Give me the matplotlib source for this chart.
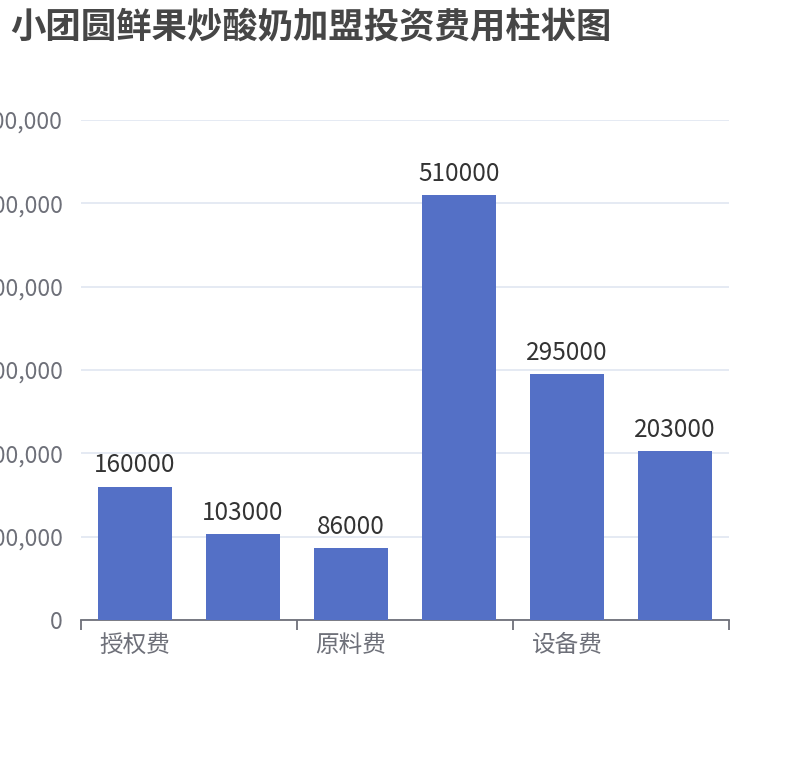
import matplotlib.pyplot as plt
from matplotlib.ticker import FuncFormatter

plt.rcParams['font.family'] = ['Noto Sans CJK SC', 'DejaVu Sans']

# 只显示了隔一个的类目名，其余为推测
categories = ['授权费', '保证金', '原料费', '店铺租金', '设备费', '装修费']
costs = [160000, 103000, 86000, 510000, 295000, 203000]
y_ticks = [0, 100000, 200000, 300000, 400000, 500000, 600000]

fig = plt.figure(figsize=(8.1, 7.6), dpi=100)
ax = fig.add_axes([81 / 810, 1 - 620 / 760, 648 / 810, 500 / 760])

x = list(range(len(categories)))
bars = ax.bar(x, costs, width=0.69, color='#5470c6', zorder=3)
for b, v in zip(bars, costs):
    ax.annotate(str(v), (b.get_x() + b.get_width() / 2, v), xytext=(0, 6),
                textcoords='offset points', ha='center', va='bottom',
                fontsize=17.5, color='#333333')

ax.set_xlim(-0.5, len(categories) - 0.5)
ax.set_ylim(0, 600000)
ax.set_yticks(y_ticks)
ax.yaxis.set_major_formatter(FuncFormatter(lambda v, p: f'{int(v):,}'))
ax.grid(axis='y', color='#E0E6F1', lw=1.2, zorder=0)

# x 轴：刻度在类目边界，每隔一个显示标签
ax.set_xticks([i - 0.5 for i in range(0, len(categories) + 1, 2)])
ax.set_xticklabels([])
ax.set_xticks(x[::2], minor=True)
ax.set_xticklabels(categories[::2], minor=True)
ax.tick_params(axis='x', which='major', length=7, width=1.3, color='#6E7079')
ax.tick_params(axis='x', which='minor', length=0, pad=10, labelsize=17, labelcolor='#6E7079')
for lab in ax.get_xticklabels(minor=True):
    lab.set_ha('center')
ax.tick_params(axis='y', length=0, pad=13, labelsize=16.5, labelcolor='#6E7079')

for s in ['top', 'right', 'left']:
    ax.spines[s].set_visible(False)
ax.spines['bottom'].set_color('#6E7079')
ax.spines['bottom'].set_linewidth(1.3)

fig.text(10 / 810, 1 - 27 / 760, '小团圆鲜果炒酸奶加盟投资费用柱状图', fontsize=25.5,
         fontweight='bold', color='#464646', ha='left', va='center')

fig.savefig('out.png', dpi=100)
